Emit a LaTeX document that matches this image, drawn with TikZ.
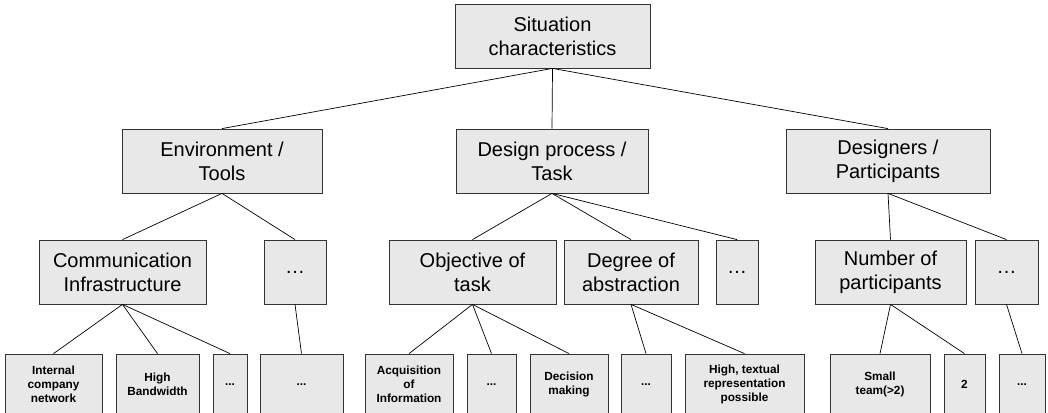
\documentclass[tikz,border=0pt]{standalone}
\usepackage{fontspec}
\setmainfont{Liberation Sans}
\begin{document}
\begin{tikzpicture}[x=1pt,y=-1pt,
  box/.style={draw=black!80, fill=black!9, line width=0.8pt, inner sep=0pt, align=center},
  big/.style={box, font=\fontsize{20}{24}\selectfont},
  small/.style={box, font=\fontsize{11.8}{14}\selectfont\bfseries},
  link/.style={draw=black, line width=0.7pt}]
\useasboundingbox (0,0) rectangle (1048,412);
\clip (0,0) rectangle (1048,412);
% level 1
\node[big, minimum width=195pt, minimum height=64pt] (top) at (552.5,36) {Situation\\characteristics};
% level 2
\node[big, minimum width=200pt, minimum height=64pt] (env) at (222,161) {Environment /\\Tools};
\node[big, minimum width=192pt, minimum height=64pt] (des) at (552,161) {Design process /\\Task};
\node[big, minimum width=204pt, minimum height=64pt] (ppl) at (888,161) {Designers /\\Participants};
% level 3
\node[big, minimum width=167pt, minimum height=64pt] (comm) at (122.5,272) {Communication\\Infrastructure};
\node[big, minimum width=62pt, minimum height=64pt] (dotsA) at (295,272) {\dots};
\node[big, minimum width=167pt, minimum height=64pt] (obj) at (472.5,272) {Objective of\\task};
\node[big, minimum width=134pt, minimum height=64pt] (deg) at (631,272) {Degree of\\abstraction};
\node[big, minimum width=42pt, minimum height=64pt] (dotsB) at (737,272) {\dots};
\node[big, minimum width=151pt, minimum height=64pt] (num) at (890.5,272) {Number of\\participants};
\node[big, minimum width=63pt, minimum height=64pt] (dotsC) at (1006.5,272) {\dots};
% level 4
\node[small, minimum width=97pt, minimum height=61pt] (int) at (53.5,384.5) {Internal\\company\\network};
\node[small, minimum width=83pt, minimum height=61pt] (hbw) at (157.5,384.5) {High\\Bandwidth};
\node[small, minimum width=34pt, minimum height=61pt] (d1) at (230,384.5) {...};
\node[small, minimum width=83pt, minimum height=61pt] (d2) at (301.5,384.5) {...};
\node[small, minimum width=88pt, minimum height=61pt] (acq) at (409,384.5) {Acquisition\\of\\Information};
\node[small, minimum width=49pt, minimum height=61pt] (d3) at (491.5,384.5) {...};
\node[small, minimum width=78pt, minimum height=61pt] (dec) at (569,384.5) {Decision\\making};
\node[small, minimum width=50pt, minimum height=61pt] (d4) at (646,384.5) {...};
\node[small, minimum width=119pt, minimum height=61pt] (htr) at (744.5,384.5) {High, textual\\representation\\possible};
\node[small, minimum width=100pt, minimum height=61pt] (team) at (880,384.5) {Small\\team(>2)};
\node[small, minimum width=41pt, minimum height=61pt] (two) at (964.5,384.5) {2};
\node[small, minimum width=46pt, minimum height=61pt] (d5) at (1022,384.5) {...};
% connectors
\foreach \a/\b in {top/env, top/des, top/ppl,
  env/comm, env/dotsA, des/obj, des/deg, des/dotsB, ppl/num, ppl/dotsC,
  comm/int, comm/hbw, comm/d1, dotsA/d2, obj/acq, obj/d3, obj/dec,
  deg/d4, deg/htr, num/team, num/two, dotsC/d5}
  \draw[link] (\a.south) -- (\b.north);
\end{tikzpicture}
\end{document}
